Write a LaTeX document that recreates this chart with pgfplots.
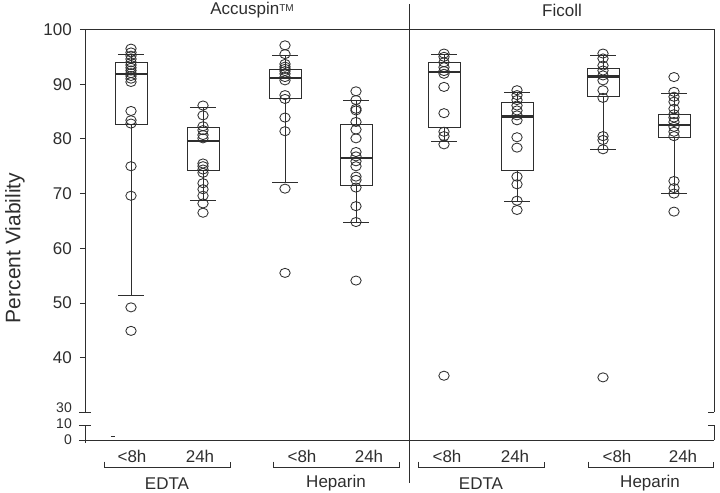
\documentclass[border=0pt]{standalone}
\usepackage{fontspec}
\setmainfont{Liberation Sans}
\usepackage{pgfplots}
\pgfplotsset{compat=1.18}
\usepgfplotslibrary{statistics}
\definecolor{ink}{gray}{0.18}
\pgfplotsset{
  bx/.style n args={6}{ink, line width=0.9pt, solid,
    boxplot prepared={draw direction=y, draw position=#1, lower whisker=#2, lower quartile=#3,
      median=#4, upper quartile=#5, upper whisker=#6,
      box extend=32, whisker extend=26}},
  pts/.style={only marks, mark=o, mark size=5.2pt, ink,
    mark options={line width=0.85pt, yscale=0.88}},
}
\begin{document}
\begin{tikzpicture}
\begin{axis}[
  x=1pt, y=5.47pt,
  xmin=85, xmax=714, ymin=24.95, ymax=100,
  clip=false,
  axis line style={draw=none},
  xtick=\empty,
  ytick={24.95,27.70,30,40,50,60,70,80,90,100},
  yticklabels={,,,40,50,60,70,80,90,100},
  ytick pos=left,
  tick align=outside,
  major tick length=5pt,
  tick style={ink, line width=0.8pt},
  /pgf/number format/assume math mode=true,
  yticklabel style={font=\fontsize{17}{20}\selectfont, inner sep=0pt, xshift=-8pt, text=ink},
  boxplot/draw direction=y,
  boxplot/every median/.style={line width=2.4pt},
]
% Accuspin EDTA <8h
\addplot[bx={131}{51.3}{82.6}{91.9}{93.9}{95.4}] coordinates {};
\addplot[pts] coordinates {(131,96.5)(131,95.8)(131,95.2)(131,94.6)(131,94.0)(131,93.5)(131,93.0)(131,92.5)(131,92.0)(131,91.5)(131,91.0)(131,90.4)(131,85.1)(131,83.4)(131,82.8)(131,75.0)(131,69.6)(131,49.2)(131,44.9)};
% Accuspin EDTA 24h
\addplot[bx={203}{68.8}{74.2}{79.6}{82.0}{85.8}] coordinates {};
\addplot[pts] coordinates {(203,86.1)(203,84.3)(203,82.3)(203,81.6)(203,80.7)(203,80.1)(203,75.5)(203,75.0)(203,74.4)(203,73.8)(203,71.9)(203,70.8)(203,69.6)(203,68.2)(203,66.5)};
% Accuspin Heparin <8h
\addplot[bx={285}{72.0}{87.4}{91.1}{92.7}{95.3}] coordinates {};
\addplot[pts] coordinates {(285,97.1)(285,95.5)(285,93.7)(285,93.2)(285,92.8)(285,92.4)(285,91.9)(285,91.3)(285,90.7)(285,88.0)(285,87.3)(285,83.9)(285,81.4)(285,70.9)(285,55.5)};
% Accuspin Heparin 24h
\addplot[bx={356}{64.8}{71.5}{76.5}{82.6}{87.1}] coordinates {};
\addplot[pts] coordinates {(356,88.7)(356,87.1)(356,85.5)(356,85.2)(356,83.1)(356,81.7)(356,80.1)(356,77.6)(356,76.8)(356,75.9)(356,75.0)(356,73.1)(356,72.5)(356,71.1)(356,67.7)(356,64.8)(356,54.1)};
% Ficoll EDTA <8h
\addplot[bx={444}{79.6}{82.0}{92.2}{93.9}{95.4}] coordinates {};
\addplot[pts] coordinates {(444,95.6)(444,95.0)(444,94.0)(444,93.1)(444,92.4)(444,91.9)(444,89.5)(444,84.7)(444,81.3)(444,80.5)(444,79.0)(444,36.7)};
% Ficoll EDTA 24h
\addplot[bx={517}{68.6}{74.3}{84.1}{86.6}{88.5}] coordinates {};
\addplot[pts] coordinates {(517,88.9)(517,88.0)(517,87.1)(517,86.1)(517,85.2)(517,84.3)(517,83.4)(517,80.3)(517,78.4)(517,73.1)(517,71.7)(517,68.7)(517,67.0)};
% Ficoll Heparin <8h
\addplot[bx={603}{78.1}{87.8}{91.4}{92.9}{95.3}] coordinates {};
\addplot[pts] coordinates {(603,95.6)(603,94.7)(603,93.4)(603,92.5)(603,91.6)(603,90.7)(603,88.9)(603,87.5)(603,80.5)(603,79.8)(603,78.1)(603,36.4)};
% Ficoll Heparin 24h
\addplot[bx={674}{70.0}{80.3}{82.5}{84.4}{88.3}] coordinates {};
\addplot[pts] coordinates {(674,91.3)(674,88.6)(674,87.7)(674,86.8)(674,85.5)(674,84.5)(674,83.9)(674,83.1)(674,82.2)(674,81.3)(674,80.5)(674,72.3)(674,71.0)(674,70.0)(674,66.7)};

% frame with axis break
\begin{scope}[ink, line width=0.9pt]
\draw (axis cs:85,100) -- (axis cs:714,100);
\draw (axis cs:85,30) -- (axis cs:85,100);
\draw (axis cs:85,24.45) -- (axis cs:85,27.70);
\draw (axis cs:79,24.95) -- (axis cs:714,24.95);
\draw (axis cs:714,30) -- (axis cs:714,100);
\draw (axis cs:714,24.95) -- (axis cs:714,27.70);
\draw (axis cs:79,30) -- (axis cs:91,30);
\draw (axis cs:79,27.70) -- (axis cs:91,27.70);
\draw (axis cs:708,30) -- (axis cs:714,30);
\draw (axis cs:708,27.70) -- (axis cs:714,27.70);
\draw (axis cs:409,104.66) -- (axis cs:409,17.09);
\draw (axis cs:111,25.67) -- (axis cs:115,25.67);
% brackets
\draw (axis cs:104,20.99) |- (axis cs:230,19.89) -- (axis cs:230,20.99);
\draw (axis cs:273,20.99) |- (axis cs:399,19.89) -- (axis cs:399,20.99);
\draw (axis cs:418,20.99) |- (axis cs:544,19.89) -- (axis cs:544,20.99);
\draw (axis cs:588,20.99) |- (axis cs:713,19.89) -- (axis cs:713,20.99);
\end{scope}
\begin{scope}[every node/.style={font=\fontsize{17}{20}\selectfont, text=ink, inner sep=0pt}]
\node[anchor=east, font=\fontsize{14}{16}\selectfont] at (axis cs:72,30.80) {30};
\node[anchor=east, font=\fontsize{14}{16}\selectfont] at (axis cs:72,27.88) {10};
\node[anchor=east, font=\fontsize{14}{16}\selectfont] at (axis cs:72,24.95) {0};
\node at (axis cs:132,21.94) {<8h};
\node at (axis cs:200,21.94) {24h};
\node at (axis cs:302,21.94) {<8h};
\node at (axis cs:369,21.94) {24h};
\node at (axis cs:447,21.94) {<8h};
\node at (axis cs:515,21.94) {24h};
\node at (axis cs:617,21.94) {<8h};
\node at (axis cs:683,21.94) {24h};
\node at (axis cs:167,17.0) {EDTA};
\node at (axis cs:336,17.0) {Heparin};
\node at (axis cs:481,17.0) {EDTA};
\node at (axis cs:650,17.0) {Heparin};
\node at (axis cs:252,103.56) {Accuspin{\fontsize{10}{12}\selectfont\raisebox{0.25em}{TM}}};
\node at (axis cs:562,103.56) {Ficoll};
\node[rotate=90, font=\fontsize{21}{24}\selectfont] at (axis cs:15,60.05) {Percent Viability};
\end{scope}
\path (axis cs:0,105.39) rectangle (axis cs:720,15.27);
\end{axis}
\end{tikzpicture}
\end{document}
